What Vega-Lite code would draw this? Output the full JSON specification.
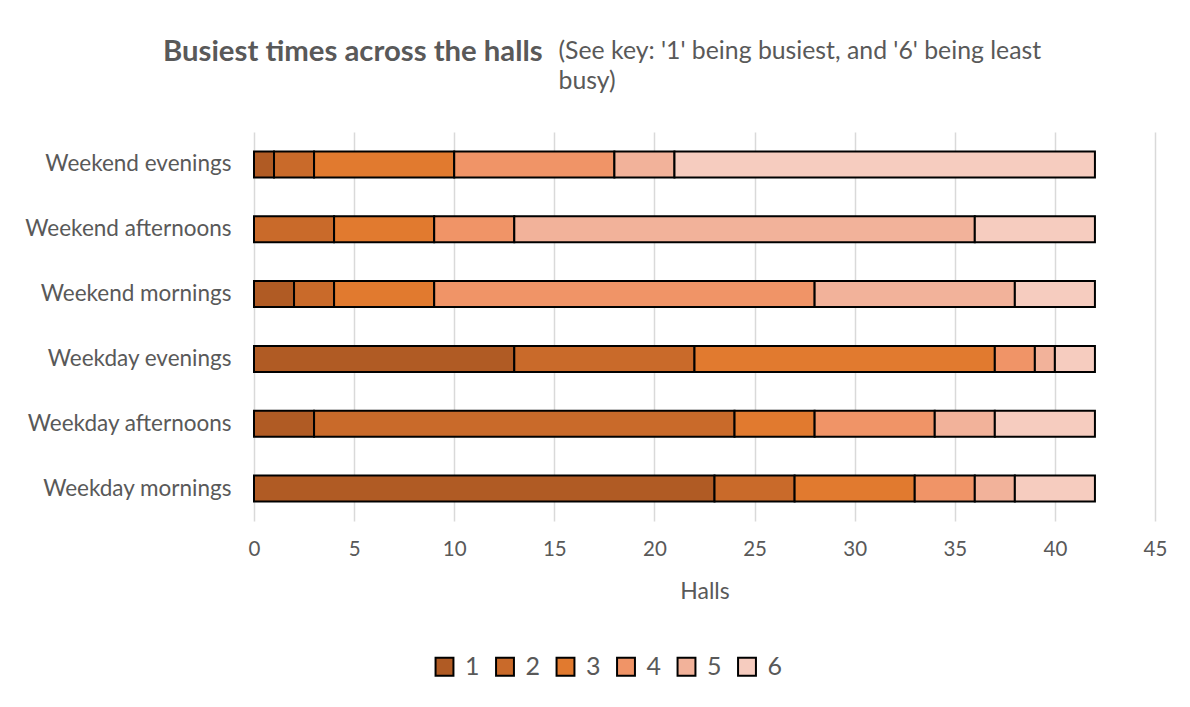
{
  "$schema": "https://vega.github.io/schema/vega-lite/v6.json",
  "width": 901,
  "height": 389,
  "autosize": {"type": "none"},
  "padding": {"left": 254, "top": 132, "right": 35, "bottom": 186},
  "background": "white",
  "title": {
    "text": "Busiest times across the halls",
    "anchor": "start",
    "frame": "group",
    "dx": -91,
    "offset": -29,
    "font": "Lato",
    "fontSize": 29.3,
    "fontWeight": "bold",
    "color": "#595959"
  },
  "data": {
    "values": [
      {"time": "Weekend evenings", "rank": "1", "halls": 1},
      {"time": "Weekend evenings", "rank": "2", "halls": 2},
      {"time": "Weekend evenings", "rank": "3", "halls": 7},
      {"time": "Weekend evenings", "rank": "4", "halls": 8},
      {"time": "Weekend evenings", "rank": "5", "halls": 3},
      {"time": "Weekend evenings", "rank": "6", "halls": 21},
      {"time": "Weekend afternoons", "rank": "2", "halls": 4},
      {"time": "Weekend afternoons", "rank": "3", "halls": 5},
      {"time": "Weekend afternoons", "rank": "4", "halls": 4},
      {"time": "Weekend afternoons", "rank": "5", "halls": 23},
      {"time": "Weekend afternoons", "rank": "6", "halls": 6},
      {"time": "Weekend mornings", "rank": "1", "halls": 2},
      {"time": "Weekend mornings", "rank": "2", "halls": 2},
      {"time": "Weekend mornings", "rank": "3", "halls": 5},
      {"time": "Weekend mornings", "rank": "4", "halls": 19},
      {"time": "Weekend mornings", "rank": "5", "halls": 10},
      {"time": "Weekend mornings", "rank": "6", "halls": 4},
      {"time": "Weekday evenings", "rank": "1", "halls": 13},
      {"time": "Weekday evenings", "rank": "2", "halls": 9},
      {"time": "Weekday evenings", "rank": "3", "halls": 15},
      {"time": "Weekday evenings", "rank": "4", "halls": 2},
      {"time": "Weekday evenings", "rank": "5", "halls": 1},
      {"time": "Weekday evenings", "rank": "6", "halls": 2},
      {"time": "Weekday afternoons", "rank": "1", "halls": 3},
      {"time": "Weekday afternoons", "rank": "2", "halls": 21},
      {"time": "Weekday afternoons", "rank": "3", "halls": 4},
      {"time": "Weekday afternoons", "rank": "4", "halls": 6},
      {"time": "Weekday afternoons", "rank": "5", "halls": 3},
      {"time": "Weekday afternoons", "rank": "6", "halls": 5},
      {"time": "Weekday mornings", "rank": "1", "halls": 23},
      {"time": "Weekday mornings", "rank": "2", "halls": 4},
      {"time": "Weekday mornings", "rank": "3", "halls": 6},
      {"time": "Weekday mornings", "rank": "4", "halls": 3},
      {"time": "Weekday mornings", "rank": "5", "halls": 2},
      {"time": "Weekday mornings", "rank": "6", "halls": 4}
    ]
  },
  "mark": {"type": "bar", "stroke": "black", "strokeWidth": 2},
  "encoding": {
    "y": {
      "field": "time",
      "type": "nominal",
      "sort": ["Weekend evenings", "Weekend afternoons", "Weekend mornings", "Weekday evenings", "Weekday afternoons", "Weekday mornings"],
      "scale": {"paddingInner": 0.6, "paddingOuter": 0.3},
      "axis": {
        "title": ["(See key: '1' being busiest, and '6' being least", "busy)"],
        "titleAngle": 0,
        "titleX": 304,
        "titleY": -74,
        "titleAlign": "left",
        "titleBaseline": "alphabetic",
        "titleFont": "Lato",
        "titleFontSize": 24.8,
        "titleFontWeight": "normal",
        "titleColor": "#595959",
        "titleLineHeight": 30,
        "titleLimit": 600,
        "domain": false,
        "ticks": false,
        "grid": false,
        "labelPadding": 23,
        "labelLimit": 400,
        "labelFont": "Lato",
        "labelFontSize": 22.5,
        "labelColor": "#595959"
      }
    },
    "x": {
      "field": "halls",
      "type": "quantitative",
      "stack": "zero",
      "scale": {"domain": [0, 45], "nice": false},
      "axis": {
        "title": "Halls",
        "values": [0, 5, 10, 15, 20, 25, 30, 35, 40, 45],
        "domain": false,
        "ticks": false,
        "grid": true,
        "gridColor": "#D9D9D9",
        "gridWidth": 1.5,
        "labelFlush": false,
        "labelPadding": 18,
        "labelFont": "Lato",
        "labelFontSize": 20.5,
        "labelColor": "#595959",
        "titleFont": "Lato",
        "titleFontSize": 23,
        "titleFontWeight": "normal",
        "titleColor": "#595959",
        "titlePadding": 21
      }
    },
    "color": {
      "field": "rank",
      "type": "nominal",
      "scale": {
        "domain": ["1", "2", "3", "4", "5", "6"],
        "range": ["#B05B24", "#C96A2A", "#E17A2F", "#F09467", "#F2B29A", "#F6CCBF"]
      },
      "legend": {
        "orient": "none",
        "legendX": 178,
        "legendY": 522,
        "direction": "horizontal",
        "columns": 6,
        "title": null,
        "symbolType": "square",
        "symbolSize": 320,
        "symbolStrokeColor": "black",
        "symbolStrokeWidth": 2,
        "symbolOpacity": 1,
        "labelFont": "Lato",
        "labelFontSize": 25,
        "labelColor": "#595959",
        "labelOffset": 8,
        "columnPadding": 11.5
      }
    },
    "order": {"field": "rank", "type": "ordinal"}
  },
  "config": {"view": {"stroke": null}}
}
